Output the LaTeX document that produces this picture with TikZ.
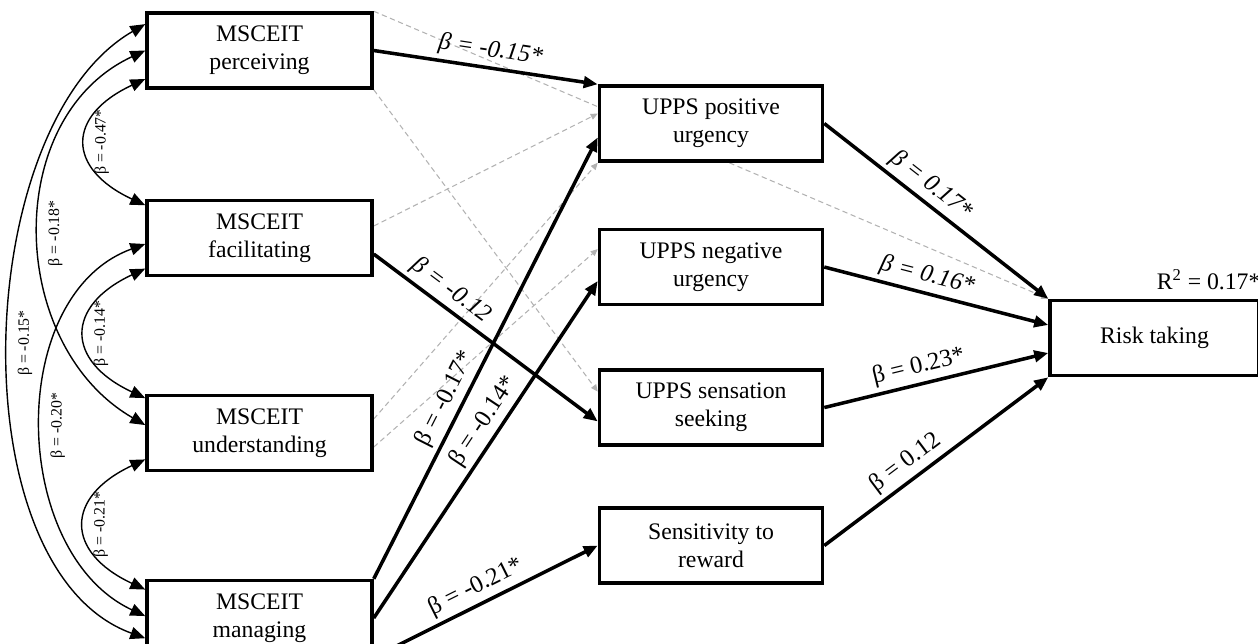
\documentclass[tikz,border=0pt]{standalone}
\usepackage{fontspec}
\setmainfont{Liberation Serif}
\usepackage{tikz}
\usetikzlibrary{arrows.meta, positioning, backgrounds}

\begin{document}
\begin{tikzpicture}[
    box/.style={rectangle, draw, line width=2pt, minimum width=4.5cm, minimum height=1.5cm, align=center, fill=white, font=\fontsize{13.5}{16}\selectfont},
    effect/.style={-{Triangle[length=8pt, width=6.5pt]}, line width=2pt},
    nonsig/.style={-{Triangle[length=4pt, width=3.5pt]}, densely dashed, gray!60, line width=0.6pt},
    corr/.style={{Triangle[length=8.5pt, width=7pt]}-{Triangle[length=8.5pt, width=7pt]}, line width=0.8pt},
    coef/.style={font=\fontsize{14}{16}\selectfont, sloped, above, inner sep=2.5pt},
    coefit/.style={coef, font=\fontsize{14}{16}\selectfont\itshape},
    rlbl/.style={font=\fontsize{9}{10}\selectfont, midway, rotate=90, anchor=north, inner sep=4.5pt}
]
    \useasboundingbox (-5.19,1.01) rectangle (19.97,-11.85);

    % MSCEIT branches
    \node[box] (perc) {MSCEIT\\perceiving};
    \node[box, below=2.18cm of perc] (faci) {MSCEIT\\facilitating};
    \node[box, below=2.33cm of faci] (unde) {MSCEIT\\understanding};
    \node[box, below=2.13cm of unde] (mana) {MSCEIT\\managing};

    % Mediators
    \node[box, minimum width=4.46cm, right=4.48cm of perc, yshift=-1.46cm] (posu) {UPPS positive\\urgency};
    \node[box, minimum width=4.46cm, below=1.3cm of posu] (negu) {UPPS negative\\urgency};
    \node[box, minimum width=4.46cm, below=1.24cm of negu] (sens) {UPPS sensation\\seeking};
    \node[box, minimum width=4.46cm, below=1.19cm of sens] (rewd) {Sensitivity to\\reward};

    % Outcome
    \node[box, minimum width=4.18cm, right=4.48cm of negu, yshift=-1.42cm] (risk) {Risk taking};
    \node[anchor=south east, inner sep=0pt, yshift=5pt, font=\fontsize{13.5}{15}\selectfont] (rsq) at (risk.north east) {R\textsuperscript{2} = 0.17*};

    % Non-significant paths
    \begin{scope}[on background layer]
        \draw[nonsig] (perc.north east) -- (risk.north west);
        \draw[nonsig] (perc.south east) -- (sens.172);
        \draw[nonsig] (faci.6) -- (posu.175);
        \draw[nonsig] (unde.7) -- (posu.south west);
        \draw[nonsig] (unde.-7) -- (negu.171);
    \end{scope}

    % Paths
    \draw[effect] (perc.east) -- node[coefit, pos=0.51] {β = -0.15*} (posu.north west);
    \draw[effect] (faci.-8) -- node[coefit, pos=0.3] {β = -0.12} (sens.187);
    \draw[effect] (mana.north east) -- node[coef, pos=0.39] {β = -0.17*} (posu.187);
    \draw[effect] (mana.east) -- node[coef, pos=0.555] {β = -0.14*} (negu.187);
    \draw[effect] (mana.south east) -- node[coef, pos=0.49] {β = -0.21*} (rewd.west);
    \draw[effect] (posu.east) -- node[coefit, pos=0.43] {β = 0.17*} (risk.north west);
    \draw[effect] (negu.east) -- node[coefit, pos=0.44] {β = 0.16*} (risk.173);
    \draw[effect] (sens.east) -- node[coef, pos=0.44] {β = 0.23*} (risk.188);
    \draw[effect] (rewd.east) -- node[coef, pos=0.41] {β = 0.12} (risk.south west);

    % Correlations
    \draw[corr] (perc.194) to[out=205, in=155, looseness=1.77] node[rlbl] {β = -0.47*} (faci.164);
    \draw[corr] (faci.195) to[out=205, in=155, looseness=1.75] node[rlbl] {β = -0.14*} (unde.163);
    \draw[corr] (unde.193) to[out=205, in=155, looseness=1.75] node[rlbl] {β = -0.21*} (mana.166);
    \draw[corr] (perc.west) to[out=205, in=150, looseness=1.09] node[rlbl] {β = -0.18*} (unde.176);
    \draw[corr] (faci.183) to[out=200, in=155, looseness=1.03] node[rlbl] {β = -0.20*} (mana.179);
    \draw[corr] (perc.167) to[out=210, in=160, looseness=0.84] node[rlbl] {β = -0.15*} (mana.190);
\end{tikzpicture}
\end{document}
